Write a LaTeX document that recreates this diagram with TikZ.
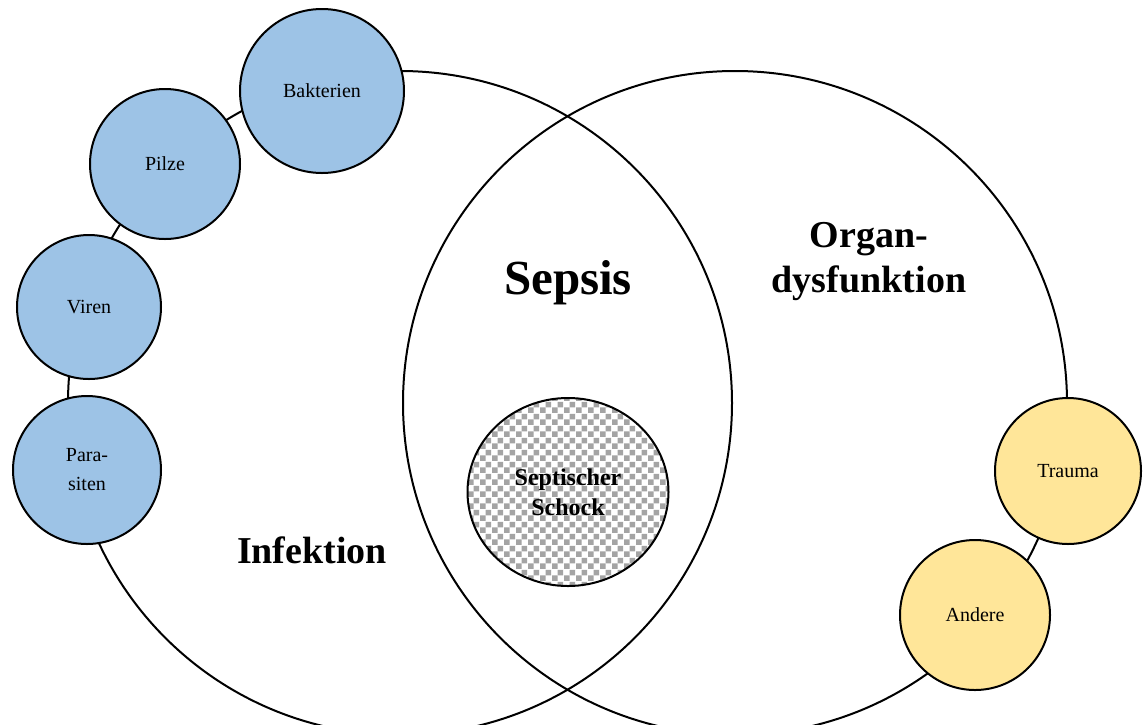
\documentclass[tikz,border=0pt]{standalone}
\usepackage{fontspec}
\setmainfont{Liberation Serif}
\usetikzlibrary{shapes.geometric,patterns.meta}
\definecolor{blu}{HTML}{9DC3E6}
\definecolor{yel}{HTML}{FFE699}
\definecolor{chk}{HTML}{A4A4A4}
\tikzdeclarepattern{
  name=checker,
  type=uncolored,
  bottom left={(0pt,0pt)},
  top right={(12pt,12pt)},
  tile size={(12pt,12pt)},
  code={\fill (0pt,0pt) rectangle (6pt,6pt); \fill (6pt,6pt) rectangle (12pt,12pt);}
}
\tikzset{
  bigc/.style={circle, draw, line width=2pt, inner sep=0pt, minimum size=664pt},
  blob/.style={circle, draw, line width=2pt, inner sep=0pt, align=center,
    font=\fontsize{20}{29}\selectfont},
  bluec/.style={blob, fill=blu},
  yelc/.style={blob, fill=yel},
  bigtext/.style={font=\bfseries\fontsize{38}{45}\selectfont, align=center, inner sep=0pt},
}
\begin{document}
\begin{tikzpicture}[x=1pt,y=-1pt]
\useasboundingbox (0,0) rectangle (1143,724);
\clip (0,0) rectangle (1143,724);
\fill[white] (0,0) rectangle (1143,724);
% large circles
\node[bigc] (inf) at (400,403) {};
\node[bigc] (org) at (735,403) {};
% septic shock
\node[ellipse, draw, line width=2pt, minimum width=201pt, minimum height=188pt, inner sep=0pt,
  preaction={fill=white}, pattern=checker, pattern color=chk, align=center,
  font=\bfseries\fontsize{24}{30}\selectfont] (shock) at (568,492) {Septischer\\Schock};
% labels
\node[bigtext, font=\bfseries\fontsize{49}{50}\selectfont] (sepsis) at (568,283) {Sepsis};
\node[bigtext] (organ) at (869,262) {Organ-\\dysfunktion};
\node[bigtext] (infekt) at (312,550) {Infektion};
% pathogens
\node[bluec, minimum size=164pt] (bak) at (322,91) {Bakterien};
\node[bluec, minimum size=150pt] (pil) at (165,164) {Pilze};
\node[bluec, minimum size=144pt] (vir) at (89,307) {Viren};
\node[bluec, minimum size=148pt] (par) at (87,470) {Para-\\siten};
% other causes
\node[yelc, minimum size=146pt] (tra) at (1068,471) {Trauma};
\node[yelc, minimum size=150pt] (and) at (975,615) {Andere};
\end{tikzpicture}
\end{document}
